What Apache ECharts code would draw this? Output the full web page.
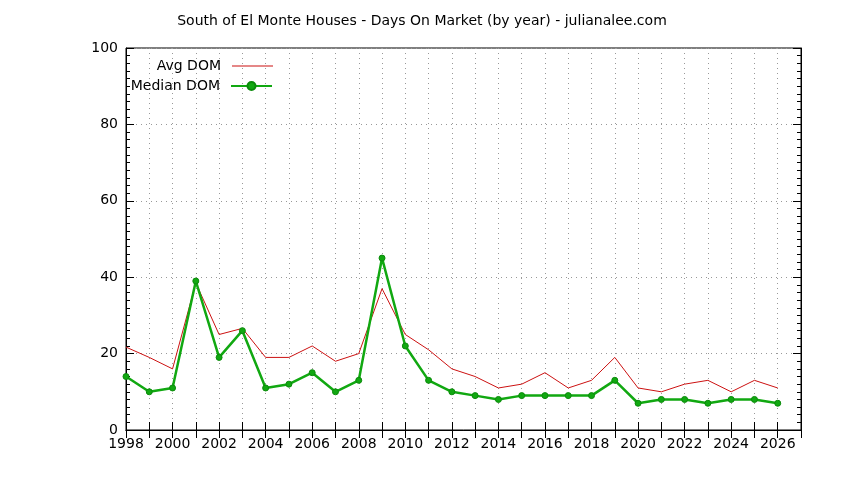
<!DOCTYPE html>
<html><head><meta charset="utf-8">
<script src="https://cdn.jsdelivr.net/npm/echarts@6/dist/echarts.min.js"></script>
<style>html,body{margin:0;padding:0;background:#fff}#c{width:844px;height:480px}</style>
</head><body><div id="c"></div>
<script>
const years = [1998,1999,2000,2001,2002,2003,2004,2005,2006,2007,2008,2009,2010,2011,2012,2013,2014,2015,2016,2017,2018,2019,2020,2021,2022,2023,2024,2025,2026];
const avgDom = [21.7,19,16,38.5,25,26.6,19,19,22,18,20,37,25,21,16,14,11,12,15,11,13,19,11,10,12,13,10,13,11];
const medianDom = [14,10,11,39,19,26,11,12,15,10,13,45,22,13,10,9,8,9,9,9,9,13,7,8,8,7,8,8,7];
const titleText = 'South of El Monte Houses - Days On Market (by year) - julianalee.com';
const font = 'DejaVu Sans';
const chart = echarts.init(document.getElementById('c'));
const pair = (xs, ys) => xs.map((x, i) => [x, ys[i]]);
chart.setOption({
  animation: false,
  title: {text: titleText, left: 'center', top: 9, textStyle: {fontFamily: font, fontSize: 14, fontWeight: 'normal', color: '#000'}},
  grid: {left: 126, right: 43, top: 48, bottom: 50, show: true, borderColor: '#000', borderWidth: 1},
  legend: [
    {right: 566, top: 54, itemWidth: 41, itemHeight: 1, align: 'right', itemGap: 4,
     textStyle: {fontFamily: font, fontSize: 14, color: '#000', padding: [0, 6, 0, 0]},
     data: [{name: 'Avg DOM', icon: 'rect', itemStyle: {color: '#cc1111'}}]},
    {right: 566, top: 74, itemWidth: 41, itemHeight: 10, align: 'right', itemGap: 4,
     textStyle: {fontFamily: font, fontSize: 14, color: '#000', padding: [0, 6, 0, 0]}, data: ['Median DOM']}
  ],
  xAxis: [{
    type: 'value', min: 1998, max: 2027, interval: 1,
    axisLine: {lineStyle: {color: '#000'}},
    axisTick: {inside: true, length: 8, lineStyle: {color: '#000'}},
    axisLabel: {fontFamily: font, fontSize: 14, color: '#000', margin: 7,
      formatter: v => (v % 2 === 0 && v <= 2026) ? String(v) : ''},
    splitLine: {show: true, lineStyle: {type: [1, 4], color: '#999'}}
  }, {
    type: 'value', position: 'top', min: 1998, max: 2027, interval: 1,
    axisLine: {lineStyle: {color: '#000'}},
    axisTick: {inside: true, length: 8, lineStyle: {color: '#000'}},
    axisLabel: {show: false}, splitLine: {show: false}
  }],
  yAxis: [{
    type: 'value', min: 0, max: 100, interval: 20,
    axisLine: {show: true, lineStyle: {color: '#000'}},
    axisTick: {show: true, inside: true, length: 8, lineStyle: {color: '#000'}},
    minorTick: {show: true, splitNumber: 10, length: 4, lineStyle: {color: '#000'}},
    axisLabel: {fontFamily: font, fontSize: 14, color: '#000', margin: 8},
    splitLine: {show: true, lineStyle: {type: [1, 4], color: '#999'}}
  }, {
    type: 'value', position: 'right', min: 0, max: 100, interval: 20,
    axisLine: {show: true, lineStyle: {color: '#000'}},
    axisTick: {show: true, inside: true, length: 8, lineStyle: {color: '#000'}},
    minorTick: {show: true, splitNumber: 10, length: 4, lineStyle: {color: '#000'}},
    axisLabel: {show: false}, splitLine: {show: false}
  }],
  series: [{
    name: 'Avg DOM', type: 'line', data: pair(years, avgDom),
    symbol: 'none', lineStyle: {color: '#cc1111', width: 1}, itemStyle: {color: '#cc1111'}
  }, {
    name: 'Median DOM', type: 'line', data: pair(years, medianDom),
    symbol: 'circle', symbolSize: 6, showAllSymbol: true,
    lineStyle: {color: '#11a811', width: 2.5},
    itemStyle: {color: '#11a811', borderColor: '#0a8a0a', borderWidth: 1}
  }]
});
</script></body></html>
